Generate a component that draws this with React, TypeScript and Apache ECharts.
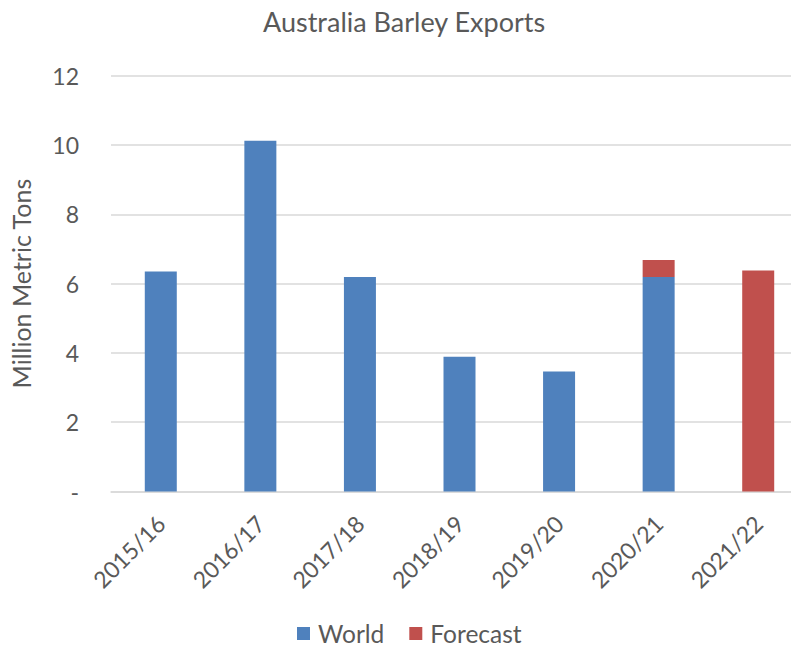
import React, { useEffect, useRef } from "react";
import * as echarts from "echarts";

const categories = ["2015/16", "2016/17", "2017/18", "2018/19", "2019/20", "2020/21", "2021/22"];
const worldValues: (number | string)[] = [6.35, 10.12, 6.19, 3.89, 3.46, 6.19, "-"];
const forecastValues: (number | string)[] = ["-", "-", "-", "-", "-", 0.49, 6.38];
const yTicks = { min: 0, max: 12, interval: 2 };

const FONT = "Lato, 'Open Sans', sans-serif";
const GREY = "#595959";

export default function App() {
  const ref = useRef<HTMLDivElement>(null);
  useEffect(() => {
    if (!ref.current) return;
    const chart = echarts.init(ref.current, undefined, { renderer: "svg" });
    chart.setOption({
      animation: false,
      backgroundColor: "#ffffff",
      title: {
        text: "Australia Barley Exports",
        left: 263,
        top: 8,
        textStyle: { fontFamily: FONT, fontSize: 27, fontWeight: "normal", color: GREY },
        padding: 0,
      },
      legend: {
        bottom: -4,
        left: 292,
        itemWidth: 13,
        itemHeight: 13,
        itemGap: 25,
        icon: "rect",
        textStyle: { fontFamily: FONT, fontSize: 24.5, color: GREY, padding: [0, 0, 0, 3] },
        data: ["World", "Forecast"],
      },
      grid: { left: 110, right: 2, top: 75.7, bottom: 155.5, containLabel: false },
      xAxis: {
        type: "category",
        data: categories,
        axisLine: { lineStyle: { color: "#D9D9D9", width: 1.5 } },
        axisTick: { show: false },
        axisLabel: { rotate: 45, margin: 28, fontFamily: FONT, fontSize: 23, color: GREY, interval: 0 },
      },
      yAxis: {
        type: "value",
        min: yTicks.min,
        max: yTicks.max,
        interval: yTicks.interval,
        name: "Million Metric Tons",
        nameLocation: "middle",
        nameGap: 78,
        nameTextStyle: { fontFamily: FONT, fontSize: 25, color: GREY },
        axisLine: { show: false },
        axisTick: { show: false },
        splitLine: { lineStyle: { color: "#D9D9D9", width: 1.5 } },
        axisLabel: {
          margin: 32,
          fontFamily: FONT,
          fontSize: 23,
          color: GREY,
          formatter: (v: number) => (v === 0 ? "-" : String(v)),
        },
      },
      series: [
        {
          name: "World",
          type: "bar",
          stack: "total",
          barWidth: 32,
          data: worldValues,
          itemStyle: { color: "#4F81BD" },
        },
        {
          name: "Forecast",
          type: "bar",
          stack: "total",
          barWidth: 32,
          data: forecastValues,
          itemStyle: { color: "#C0504D" },
        },
      ],
    });
    return () => chart.dispose();
  }, []);
  return (
    <div style={{ position: "fixed", left: 0, top: 0, width: 791, height: 647, overflow: "hidden", background: "#fff" }}>
      <div ref={ref} style={{ position: "absolute", left: 0, top: 0, width: 810, height: 647 }} />
    </div>
  );
}
